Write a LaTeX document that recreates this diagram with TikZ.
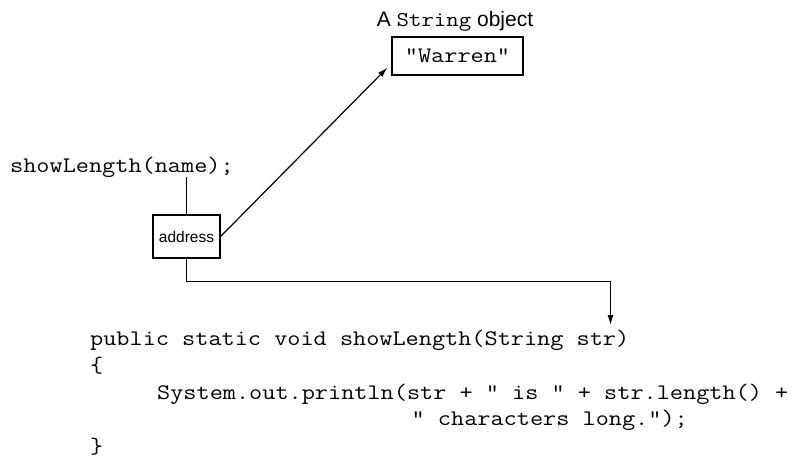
\documentclass[tikz,border=0pt]{standalone}
\usepackage{fontspec}
\setmainfont{Liberation Sans}
\newfontfamily\cour[FakeStretch=1.15]{Latin Modern Mono}
\usetikzlibrary{arrows.meta}
\begin{document}
\begin{tikzpicture}[x=1pt,y=-1pt,
  code/.style={inner sep=0pt,anchor=base west,font=\cour\fontsize{22.2}{26}\selectfont},
  obj/.style={draw,line width=1.2pt,inner sep=0pt},
  conn/.style={line width=1.2pt},
  tip/.style={-{Latex[length=10pt,width=6pt]}}]
\useasboundingbox (0,0) rectangle (809,459);
\node[inner sep=0pt,anchor=base,font=\fontsize{21}{24}\selectfont] (title) at (455,26) {A {\cour String} object};
\node[obj,minimum width=131pt,minimum height=38pt,font=\cour\fontsize{22.2}{26}\selectfont] (warren) at (457.5,56) {"Warren"};
\node[code] (call) at (10,172) {showLength(name);};
\node[obj,minimum width=67pt,minimum height=43pt,font=\fontsize{15.5}{19}\selectfont] (addr) at (186.5,236.5) {address};
\coordinate (wtip) at ([xshift=-4pt,yshift=8pt]warren.south west);
\coordinate (ptip) at (610.5,325);
\node[code] (l1) at (90,345) {public static void showLength(String str)};
\node[code] (l2) at (90,372) {\{};
\node[code] (l3) at (157,399) {System.out.println(str + " is " + str.length() +};
\node[code] (l4) at (411.5,425) {" characters long.");};
\node[code] (l5) at (90,453) {\}};
\draw[conn] (addr.north) -- (addr.north |- call.south);
\draw[conn,tip] (addr.east) -- (wtip);
\draw[conn,tip] (addr.south) -- (addr.south |- 0,281.5) -| (ptip);
\end{tikzpicture}
\end{document}
